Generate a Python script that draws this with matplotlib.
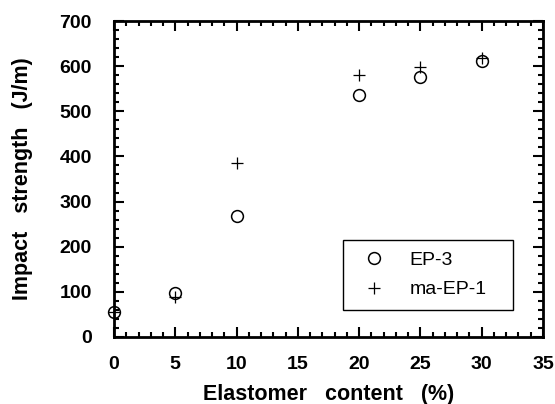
import matplotlib.pyplot as plt
from matplotlib.ticker import MultipleLocator

plt.rcParams['font.family'] = ['Liberation Sans', 'DejaVu Sans']

# elastomer content (%)
x_ep3 = [0, 5, 10, 20, 25, 30]
y_ep3 = [55, 98, 267, 535, 575, 612]
x_ma = [0, 5, 10, 20, 25, 30]
y_ma = [55, 88, 385, 580, 598, 618]

fig = plt.figure(figsize=(5.55, 4.04), dpi=100)
ax = fig.add_axes([0.2054, 0.166, 0.773, 0.782])

ax.plot(x_ep3, y_ep3, 'o', mfc='none', mec='black', ms=8.5, mew=1.1,
        label='EP-3', clip_on=False)
ax.plot(x_ma, y_ma, '+', color='black', ms=8, mew=0.9, label='ma-EP-1',
        clip_on=False)

ax.set_xlim(0, 35)
ax.set_ylim(0, 700)
ax.xaxis.set_major_locator(MultipleLocator(5))
ax.xaxis.set_minor_locator(MultipleLocator(1))
ax.yaxis.set_major_locator(MultipleLocator(100))
ax.yaxis.set_minor_locator(MultipleLocator(20))
ax.tick_params(which='both', direction='in', top=True, right=True, width=1.5)
ax.tick_params(which='major', length=7, labelsize=14)
ax.tick_params(axis='y', which='major', pad=16)
ax.tick_params(axis='x', which='major', pad=14)
ax.tick_params(which='minor', length=3.5)
for lab in ax.get_xticklabels() + ax.get_yticklabels():
    lab.set_fontweight('bold')
for s in ax.spines.values():
    s.set_linewidth(2)

ax.set_xlabel('Elastomer   content   (%)', fontsize=15.5, fontweight='bold', labelpad=8)
ax.set_ylabel('Impact   strength   (J/m)', fontsize=15.5, fontweight='bold', labelpad=19)

leg = ax.legend(loc='lower left', bbox_to_anchor=(0.534, 0.085, 0.396, 0.231),
                mode='expand', borderaxespad=0, fontsize=14,
                fancybox=False, edgecolor='black', framealpha=1, handletextpad=0.8,
                borderpad=0.6, labelspacing=0.6)
leg.get_frame().set_linewidth(1)

fig.savefig('out.png', dpi=100)
